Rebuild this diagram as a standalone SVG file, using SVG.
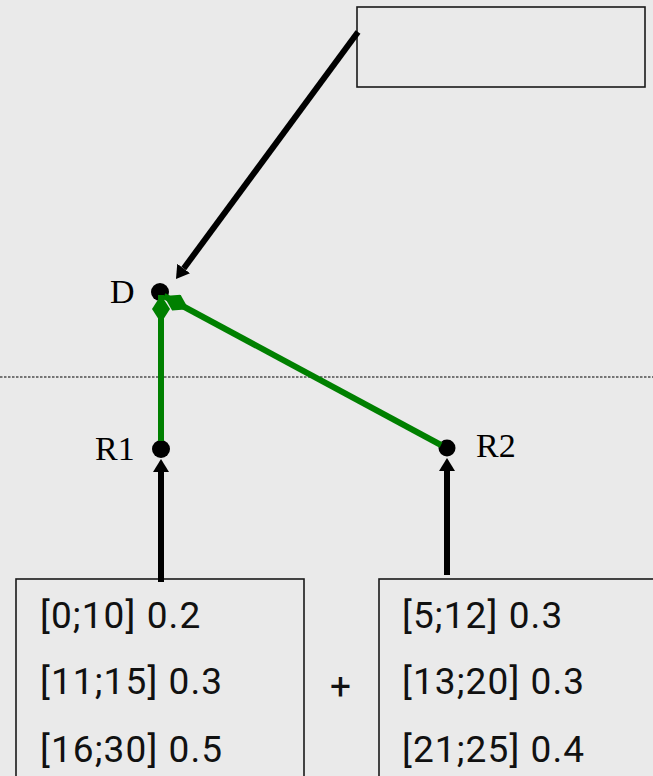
<svg xmlns="http://www.w3.org/2000/svg" width="653" height="776" viewBox="0 0 653 776">
<defs>
<style>
.bg{fill:#eaeaea}
.box{fill:#eaeaea;stroke:#1a1a1a;stroke-width:1.6}
.lbl{font-family:"Liberation Serif","Times New Roman",serif;font-size:34px;fill:#000}
.val{font-family:Roboto,"Liberation Sans",sans-serif;font-size:37px;letter-spacing:1.1px;fill:#111}
.dot{fill:#000}
.blk{stroke:#000;stroke-width:6;fill:none}
.grn{stroke:#008000;stroke-width:6;fill:none}
.sep{stroke:#000;stroke-width:1;stroke-dasharray:2.5,1.5}
</style>
<marker id="ah" viewBox="0 -8 13 16" markerWidth="13" markerHeight="16" refX="0" refY="0" orient="auto" markerUnits="userSpaceOnUse">
<path d="M0,-8 L13,0 L0,8 z" fill="#000"/>
</marker>
<marker id="dm" viewBox="0 -9 28 18" markerWidth="28" markerHeight="18" refX="0" refY="0" orient="auto" markerUnits="userSpaceOnUse">
<path d="M0,0 L14,-9 L28,0 L14,9 z" fill="#008000"/>
</marker>
</defs>
<rect class="bg" x="0" y="0" width="653" height="776"/>
<line class="sep" x1="0" y1="377" x2="653" y2="377"/>
<g id="note">
<rect class="box" x="357" y="7" width="288" height="80"/>
</g>
<g id="D">
<circle class="dot" cx="160" cy="292" r="9"/>
<text class="lbl" x="110" y="303">D</text>
</g>
<g id="R1">
<circle class="dot" cx="161" cy="449" r="9"/>
<text class="lbl" x="95" y="460">R1</text>
</g>
<g id="R2">
<circle class="dot" cx="447" cy="448" r="8.5"/>
<text class="lbl" x="476" y="457">R2</text>
</g>
<g id="left-table">
<rect class="box" x="16" y="579" width="288" height="210"/>
<text class="val" x="40" y="628">[0;10] 0.2</text>
<text class="val" x="40" y="694">[11;15] 0.3</text>
<text class="val" x="40" y="762">[16;30] 0.5</text>
</g>
<g id="plus">
<text class="val" x="341" y="699" text-anchor="middle">+</text>
</g>
<g id="right-table">
<rect class="box" x="379" y="579" width="300" height="210"/>
<text class="val" x="402" y="628">[5;12] 0.3</text>
<text class="val" x="402" y="694">[13;20] 0.3</text>
<text class="val" x="402" y="762">[21;25] 0.4</text>
</g>
<g id="connectors">
<line class="blk" x1="358" y1="32" x2="183.7" y2="268.5" marker-end="url(#ah)"/>
<line class="blk" x1="161" y1="582" x2="161" y2="472" marker-end="url(#ah)"/>
<line class="blk" x1="447" y1="575" x2="447" y2="471" marker-end="url(#ah)"/>
<line class="grn" x1="161" y1="295" x2="161" y2="441" marker-start="url(#dm)"/>
<line class="grn" x1="164" y1="296" x2="441" y2="445" marker-start="url(#dm)"/>
</g>
</svg>
